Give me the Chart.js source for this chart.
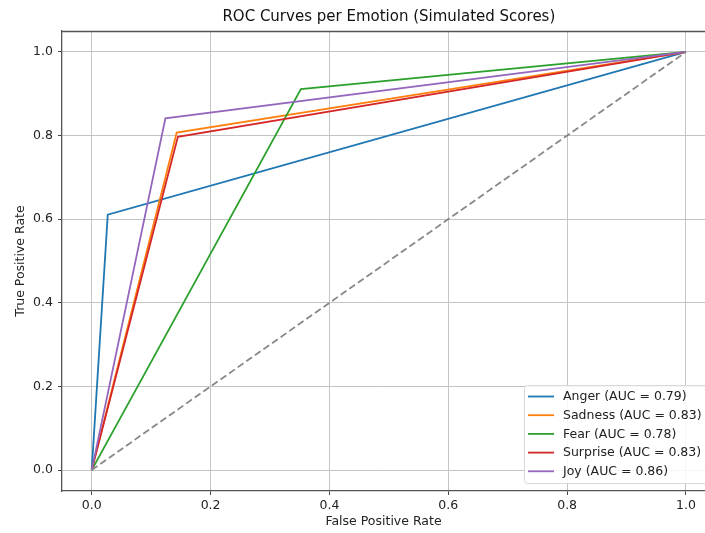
<!DOCTYPE html>
<html>
<head>
<meta charset="utf-8">
<script src="https://cdn.jsdelivr.net/npm/chart.js@4.4.0/dist/chart.umd.min.js"></script>
<style>
  html, body { margin: 0; padding: 0; background: #fff; overflow: hidden; }
  #wrap { width: 705px; height: 533px; }
</style>
</head>
<body>
<div id="wrap"><canvas id="c" width="705" height="533"></canvas></div>
<script>
const titleText = "ROC Curves per Emotion (Simulated Scores)";
const xTicks = [0, 0.2, 0.4, 0.6, 0.8, 1.0];
const yTicks = [0, 0.2, 0.4, 0.6, 0.8, 1.0];

const labels = ["Anger (AUC = 0.79)", "Sadness (AUC = 0.83)", "Fear (AUC = 0.78)", "Surprise (AUC = 0.83)", "Joy (AUC = 0.86)"];
const colors = ["#1f77b4", "#ff7f0e", "#2ca02c", "#d62728", "#9467bd"];

const fprAnger = [0, 0.027, 1];
const tprAnger = [0, 0.611, 1];
const fprSadness = [0, 0.143, 1];
const tprSadness = [0, 0.807, 1];
const fprFear = [0, 0.352, 1];
const tprFear = [0, 0.911, 1];
const fprSurprise = [0, 0.145, 1];
const tprSurprise = [0, 0.797, 1];
const fprJoy = [0, 0.124, 1];
const tprJoy = [0, 0.841, 1];
const fprChance = [0, 1];
const tprChance = [0, 1];

const fprs = [fprAnger, fprSadness, fprFear, fprSurprise, fprJoy];
const tprs = [tprAnger, tprSadness, tprFear, tprSurprise, tprJoy];

const FONT = "'DejaVu Sans', sans-serif";
const FS = 12.5;

const datasets = fprs.map((f, i) => ({
  label: labels[i],
  data: f.map((x, j) => ({x: x, y: tprs[i][j]})),
  borderColor: colors[i],
  backgroundColor: colors[i],
  borderWidth: 1.8,
  pointRadius: 0,
  fill: false,
  tension: 0,
  order: 10 - i,
  isLegend: true
}));
datasets.push({
  label: "chance",
  data: fprChance.map((x, j) => ({x: x, y: tprChance[j]})),
  borderColor: "#888888",
  borderWidth: 1.8,
  borderDash: [7, 3.5],
  pointRadius: 0,
  fill: false,
  order: 0,
  isLegend: false
});

const decor = {
  id: "decor",
  afterDraw(chart) {
    const ctx = chart.ctx;
    const a = chart.chartArea;
    ctx.save();
    ctx.strokeStyle = "#555";
    ctx.lineWidth = 1.3;
    ctx.beginPath();
    ctx.moveTo(a.left, a.top + 0.5);
    ctx.lineTo(a.right + 5, a.top + 0.5);
    ctx.stroke();
    const xs = chart.scales.x;
    const cx = (xs.getPixelForValue(-0.05) + xs.getPixelForValue(1.05)) / 2;
    ctx.fillStyle = "#111";
    ctx.font = "15px " + FONT;
    ctx.textAlign = "center";
    ctx.textBaseline = "middle";
    ctx.fillText(titleText, cx, 17);
    const bx = 524.5, by = 385.5, bw = 200, bh = 98, r = 3;
    ctx.globalAlpha = 0.85;
    ctx.fillStyle = "#fff";
    ctx.beginPath();
    ctx.moveTo(bx + r, by);
    ctx.lineTo(bx + bw - r, by);
    ctx.arcTo(bx + bw, by, bx + bw, by + r, r);
    ctx.lineTo(bx + bw, by + bh - r);
    ctx.arcTo(bx + bw, by + bh, bx + bw - r, by + bh, r);
    ctx.lineTo(bx + r, by + bh);
    ctx.arcTo(bx, by + bh, bx, by + bh - r, r);
    ctx.lineTo(bx, by + r);
    ctx.arcTo(bx, by, bx + r, by, r);
    ctx.closePath();
    ctx.fill();
    ctx.globalAlpha = 1;
    ctx.strokeStyle = "#d8d8d8";
    ctx.lineWidth = 1;
    ctx.stroke();
    ctx.font = FS + "px " + FONT;
    ctx.textAlign = "left";
    ctx.textBaseline = "middle";
    chart.data.datasets.filter(d => d.isLegend).forEach((d, i) => {
      const yy = 396.5 + i * 18.7;
      ctx.strokeStyle = d.borderColor;
      ctx.lineWidth = 1.8;
      ctx.beginPath();
      ctx.moveTo(528, yy);
      ctx.lineTo(554, yy);
      ctx.stroke();
      ctx.fillStyle = "#222";
      ctx.fillText(d.label, 563, yy + 0.5);
    });
    ctx.restore();
  }
};

new Chart(document.getElementById("c"), {
  type: "line",
  data: { datasets: datasets },
  options: {
    responsive: false,
    devicePixelRatio: 1,
    animation: false,
    layout: { padding: { top: 31, right: 0, left: 0, bottom: 0 } },
    plugins: { legend: { display: false }, tooltip: { enabled: false }, title: { display: false } },
    scales: {
      x: {
        type: "linear",
        min: -0.05, max: 1.032,
        afterBuildTicks: s => { s.ticks = xTicks.map(v => ({value: v})); },
        afterFit: s => { s.height = 42; },
        ticks: { callback: v => Number(v).toFixed(1), color: "#222", font: { family: FONT, size: FS }, padding: 3, maxRotation: 0 },
        grid: { color: "#c4c4c4", lineWidth: 1, tickColor: "#444", tickLength: 4 },
        border: { display: true, color: "#555", width: 1.3 },
        title: { display: true, text: "False Positive Rate", color: "#222", font: { family: FONT, size: FS }, padding: { top: 0, bottom: 3.5 } }
      },
      y: {
        type: "linear",
        min: -0.05, max: 1.05,
        afterBuildTicks: s => { s.ticks = yTicks.map(v => ({value: v})); },
        afterFit: s => { s.width = 62; },
        ticks: { callback: v => Number(v).toFixed(1), color: "#222", font: { family: FONT, size: FS }, padding: 5 },
        grid: { color: "#c4c4c4", lineWidth: 1, tickColor: "#444", tickLength: 4 },
        border: { display: true, color: "#555", width: 1.3 },
        title: { display: true, text: "True Positive Rate", color: "#222", font: { family: FONT, size: FS }, padding: { top: 13.5, bottom: 0 } }
      }
    }
  },
  plugins: [decor]
});
</script>
</body>
</html>
